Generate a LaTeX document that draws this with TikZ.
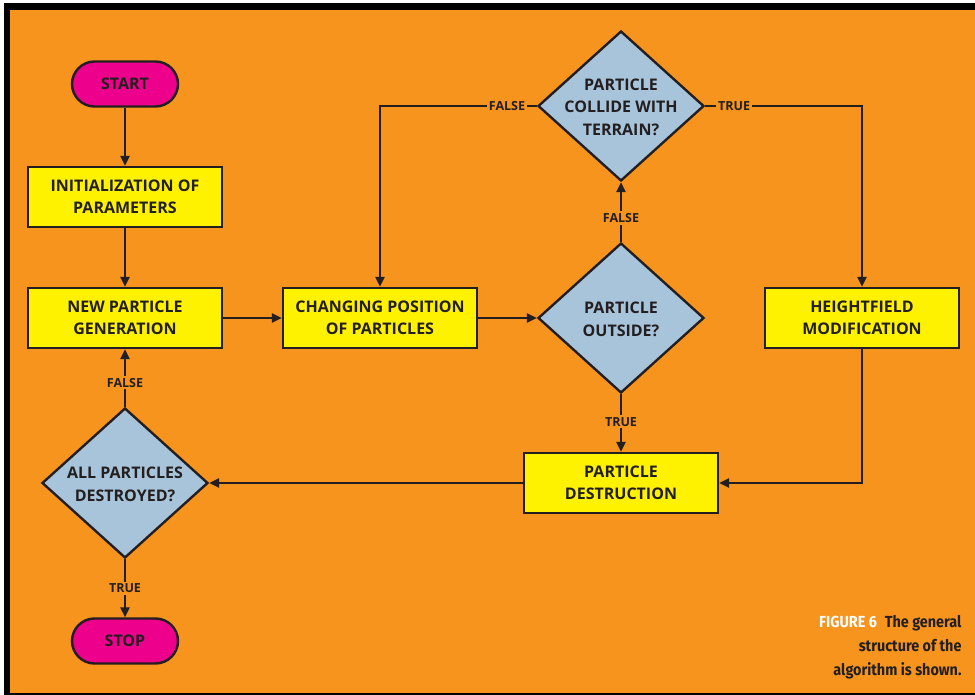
\documentclass[tikz,border=0pt]{standalone}
\usepackage{fontspec}
\setmainfont{Open Sans}
\newfontfamily\capfont[FakeStretch=0.9]{Fira Sans}
\usetikzlibrary{shapes.geometric,arrows.meta}
\definecolor{bgorange}{HTML}{F7941E}
\definecolor{boxyellow}{HTML}{FFF200}
\definecolor{termpink}{HTML}{EC008C}
\definecolor{diablue}{HTML}{A7C4DA}
\definecolor{ink}{HTML}{231F20}
\newcommand\dtext[1]{\makebox[0pt]{\smash{\raisebox{-0.42em}{\begin{tabular}{@{}c@{}}#1\end{tabular}}}}}
\tikzset{
  base/.style={draw=ink, line width=2.4pt, text=ink, font=\bfseries\fontsize{16}{22.5}\selectfont, align=center, inner sep=0pt},
  term/.style={base, fill=termpink, rectangle, rounded corners=22.5pt, minimum width=106pt, minimum height=45pt},
  proc/.style={base, fill=boxyellow, rectangle, minimum width=194pt, minimum height=60pt},
  dec/.style={base, fill=diablue, diamond, minimum width=166pt, minimum height=150pt},
  conn/.style={draw=ink, line width=2.4pt, -{Triangle[length=10pt,width=9pt]}},
  lbl/.style={fill=bgorange, text=ink, font=\bfseries\fontsize{12.5}{14}\selectfont, inner sep=2pt}
}
\begin{document}
\begin{tikzpicture}[x=1pt,y=-1pt]
\useasboundingbox (0,0) rectangle (975,695);
\fill[white] (0,0) rectangle (975,695);
\fill[black] (4,3) rectangle (975,695);
\fill[bgorange] (10,10) rectangle (975,693);

\node[term] (start) at (125,84) {START};
\node[proc] (init) at (125,197) {INITIALIZATION OF\\PARAMETERS};
\node[proc] (newp) at (125,318) {NEW PARTICLE\\GENERATION};
\node[dec] (all) at (125,483) {\dtext{ALL PARTICLES\\DESTROYED?}};
\node[term] (stop) at (125,641) {STOP};
\node[proc] (chg) at (380,318) {CHANGING POSITION\\OF PARTICLES};
\node[dec] (outs) at (621,318) {\dtext{PARTICLE\\OUTSIDE?}};
\node[dec] (coll) at (621,106) {\dtext{PARTICLE\\COLLIDE WITH\\TERRAIN?}};
\node[proc] (hf) at (862,318) {HEIGHTFIELD\\MODIFICATION};
\node[proc] (dest) at (621,483) {PARTICLE\\DESTRUCTION};

\draw[conn] (start) -- (init);
\draw[conn] (init) -- (newp);
\draw[conn] (newp) -- (chg);
\draw[conn] (chg) -- (outs);
\draw[conn] (outs) -- node[lbl,pos=0.4] (lf1) {FALSE} (coll);
\draw[conn] (outs) -- node[lbl,pos=0.48] (lt1) {TRUE} (dest);
\draw[conn] (coll.west) -| node[lbl,pos=0.095] (lf2) {FALSE} (chg.north);
\draw[conn] (coll.east) -| node[lbl,pos=0.092] (lt2) {TRUE} (hf.north);
\draw[conn] (hf.south) |- (dest.east);
\draw[conn] (dest) -- (all);
\draw[conn] (all) -- node[lbl,pos=0.42] (lf3) {FALSE} (newp);
\draw[conn] (all) -- node[lbl,pos=0.5] (lt3) {TRUE} (stop);

\node[anchor=east, align=right, font=\capfont\bfseries\fontsize{16}{24}\selectfont, text=ink] (cap) at (965,647)
  {\textcolor{white}{FIGURE 6}\enspace The general\\structure of the\\algorithm is shown.};
\end{tikzpicture}
\end{document}
